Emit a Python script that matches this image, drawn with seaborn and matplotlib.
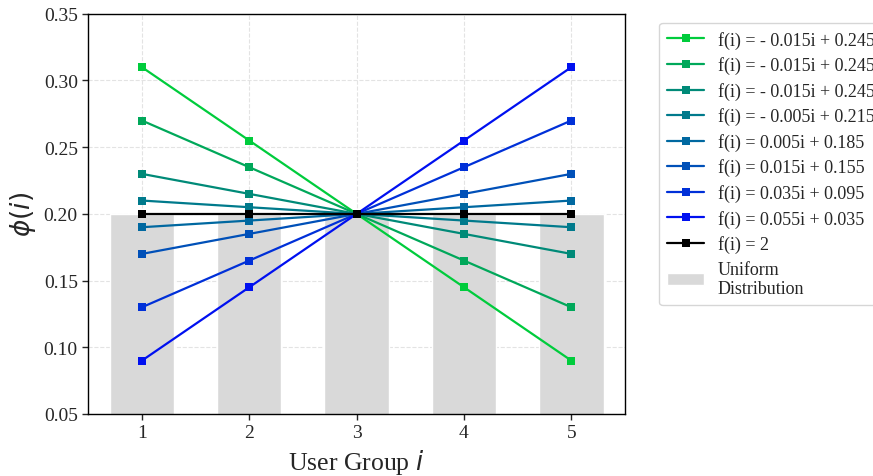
import numpy as np
import pandas as pd
import matplotlib
matplotlib.use("Agg")
import matplotlib.pyplot as plt
import seaborn as sns
from matplotlib.lines import Line2D

groups = [1, 2, 3, 4, 5]
labels = [
    "f(i) = - 0.015i + 0.245",
    "f(i) = - 0.015i + 0.245 ",
    "f(i) = - 0.015i + 0.245  ",
    "f(i) = - 0.005i + 0.215",
    "f(i) = 0.005i + 0.185",
    "f(i) = 0.015i + 0.155",
    "f(i) = 0.035i + 0.095",
    "f(i) = 0.055i + 0.035",
    "f(i) = 2",
]
s1 = [0.31, 0.255, 0.20, 0.145, 0.09]
s2 = [0.27, 0.235, 0.20, 0.165, 0.13]
s3 = [0.23, 0.215, 0.20, 0.185, 0.17]
s4 = [0.21, 0.205, 0.20, 0.195, 0.19]
s5 = [0.19, 0.195, 0.20, 0.205, 0.21]
s6 = [0.17, 0.185, 0.20, 0.215, 0.23]
s7 = [0.13, 0.165, 0.20, 0.235, 0.27]
s8 = [0.09, 0.145, 0.20, 0.255, 0.31]
s9 = [0.20, 0.20, 0.20, 0.20, 0.20]
uniform = [0.2, 0.2, 0.2, 0.2, 0.2]
series = [s1, s2, s3, s4, s5, s6, s7, s8, s9]
colors = ["#00cc3c", "#00a85a", "#008a78", "#007a8c", "#0068a0", "#0050b8", "#0030d8", "#0010f0", "#000000"]

sns.set_style("white")
plt.rcParams["font.family"] = ["Liberation Serif", "DejaVu Serif"]
plt.rcParams["mathtext.fontset"] = "dejavusans"

fig = plt.figure(figsize=(8.73, 4.77), dpi=100)
ax = fig.add_axes([0.101, 0.130, 0.615, 0.839])

bars = ax.bar(groups, uniform, width=0.6, color="#d9d9d9", zorder=1, label="Uniform\nDistribution")

rows = []
for lab, vals in zip(labels, series):
    for g, v in zip(groups, vals):
        rows.append({"group": g, "value": v, "label": lab})
df = pd.DataFrame(rows)
sns.lineplot(data=df, x="group", y="value", hue="label", hue_order=labels,
             palette=dict(zip(labels, colors)), marker="s", markersize=6,
             markeredgewidth=0, linewidth=1.6, ax=ax, zorder=3, legend=False)

ax.set_ylim(0.05, 0.35)
ax.set_xlim(0.5, 5.5)
ax.set_xticks(groups)
yt = [0.05, 0.10, 0.15, 0.20, 0.25, 0.30, 0.35]
ax.set_yticks(yt)
ax.set_yticklabels([f"{v:.2f}" for v in yt])
ax.tick_params(axis="both", labelsize=14, length=4, width=1, direction="out", bottom=True, left=True)
ax.grid(True, linestyle="--", color="#e3e3e3", linewidth=0.8, zorder=0)
ax.set_axisbelow(True)
for sp in ax.spines.values():
    sp.set_color("black")
    sp.set_linewidth(1.0)
ax.set_xlabel("User Group $i$", fontsize=18.5)
ax.set_ylabel(r"$\phi(i)$", fontsize=19)

hs = [Line2D([0], [0], color=c, marker="s", markersize=6, markeredgewidth=0, linewidth=1.6) for c in colors]
hs.append(bars)
leg = ax.legend(hs, [l.strip() for l in labels] + ["Uniform\nDistribution"],
                loc="upper left", bbox_to_anchor=(1.047, 1.0), fontsize=13,
                frameon=True, handlelength=2.0, borderpad=0.45, labelspacing=0.42)
leg.get_frame().set_edgecolor("#cccccc")

fig.savefig("out.png", dpi=100)
